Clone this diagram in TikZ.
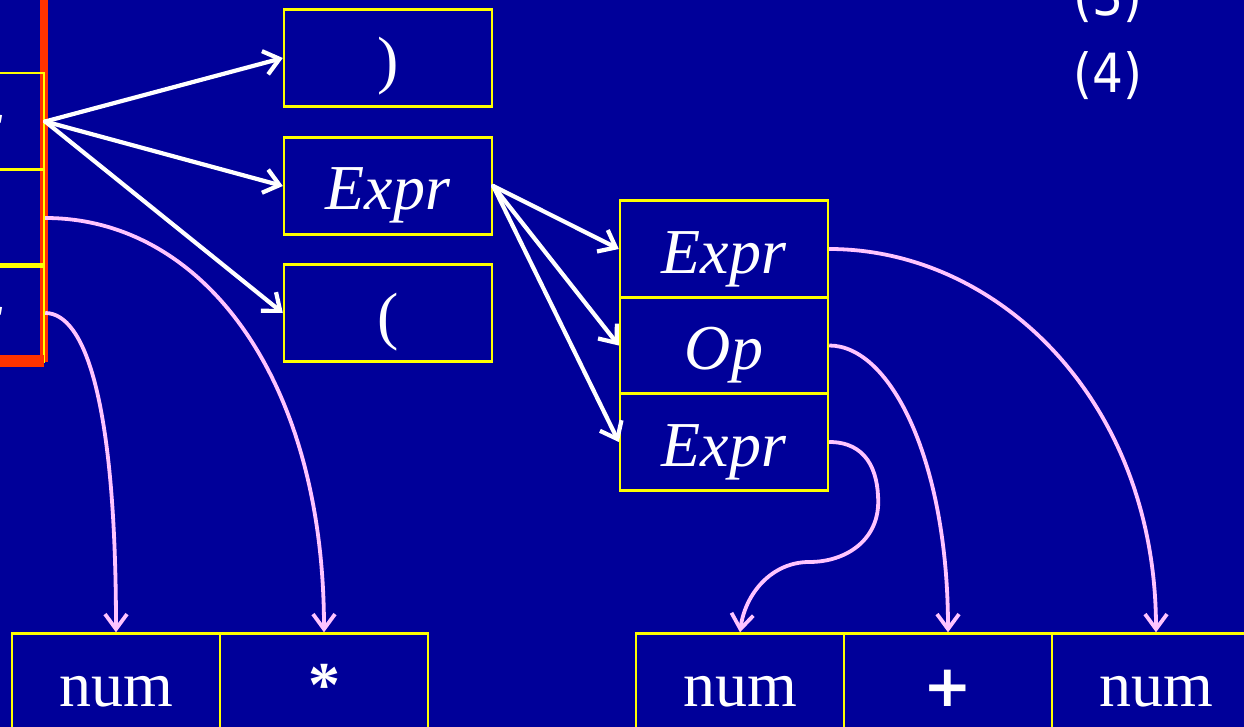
\documentclass[tikz,border=0pt]{standalone}
\usepackage{fontspec}
\setmainfont{Liberation Serif}
\newfontfamily\numfont[FakeStretch=0.9]{DejaVu Sans}
\newfontfamily\plusfont{DejaVu Sans}
\usetikzlibrary{arrows.meta,calc}
\definecolor{bg}{RGB}{0,0,153}
\definecolor{ylw}{RGB}{255,255,0}
\definecolor{pinkc}{RGB}{255,196,255}
\definecolor{redc}{RGB}{255,51,0}
\begin{document}
\begin{tikzpicture}[x=1pt,y=-1pt,
  cell/.style={draw=ylw, line width=2.4pt, minimum width=208pt, minimum height=97pt,
    inner sep=0pt, text=white, font=\fontsize{64}{70}\selectfont,
    text height=60pt, text depth=12pt},
  warrow/.style={draw=white, line width=4.2pt, line cap=round,
    -{Straight Barb[length=15pt,width=24pt]}},
  parrow/.style={draw=pinkc, line width=3.8pt,
    -{Straight Barb[length=15pt,width=22pt]}},
  lbl/.style={text=white, font=\numfont\fontsize{54}{60}\selectfont,
    anchor=base, inner sep=0pt}]
\fill[bg] (0,0) rectangle (1244,727);
\useasboundingbox (0,0) rectangle (1244,727);
\clip (0,0) rectangle (1244,727);
% red frame (vertical part)
\fill[redc] (40,0) rectangle (48,362);
% left column (cut off)
\node[cell] (L1) at (-60,121.5) {\textit{Expr}};
\node[cell] (L2) at (-60,218) {\textit{Op}};
\node[cell] (L3) at (-60,313) {\textit{Expr}};
\fill[redc] (0,355) rectangle (44,367);
% middle column
\node[cell] (M1) at (388,58) {)};
\node[cell] (M2) at (388,186) {\textit{Expr}};
\node[cell] (M3) at (388,313) {(};
% right column
\node[cell] (R1) at (724,249) {\textit{Expr}};
\node[cell] (R2) at (724,345.5) {\textit{Op}};
\node[cell] (R3) at (724,442) {\textit{Expr}};
% bottom row
\node[cell] (B1) at (116,682) {num};
\node[cell] (B2) at (324,682) {\textbf{*}};
\node[cell] (C1) at (740,682) {num};
\node[cell] (C2) at (948,682) {{\plusfont\fontsize{58}{64}\selectfont\bfseries +}};
\node[cell] (C3) at (1156,682) {num};
% labels
\node[lbl] (n3) at (1108,16) {(3)};
\node[lbl] (n4) at (1108,93) {(4)};
% white arrows
\draw[warrow] (L1.east) -- (M1.west);
\draw[warrow] (L1.east) -- (M2.west);
\draw[warrow] (L1.east) -- (M3.west);
\draw[warrow] (M2.east) -- (R1.west);
\draw[warrow] (M2.east) -- (R2.west);
\draw[warrow] (M2.east) -- (R3.west);
% pink arrows
\draw[parrow] (L2.east) .. controls ($(L2.east)+(160,0)$) and ($(B2.north)+(0,-250)$) .. (B2.north);
\draw[parrow] (L3.east) .. controls ($(L3.east)+(40,0)$) and ($(B1.north)+(0,-230)$) .. (B1.north);
\draw[parrow] (R1.east) .. controls ($(R1.east)+(170,0)$) and ($(C3.north)+(0,-230)$) .. (C3.north);
\draw[parrow] (R2.east) .. controls ($(R2.east)+(62,0)$) and ($(C2.north)+(0,-170)$) .. (C2.north);
\coordinate (s1) at ($(R3.east)+(49,60)$);
\coordinate (s2) at ($(R3.east)+(-20,120)$);
\draw[parrow] (R3.east) .. controls ($(R3.east)+(37,0)$) and ($(s1)+(0,-32)$) .. (s1)
  .. controls ($(s1)+(0,38)$) and ($(s2)+(37,0)$) .. (s2)
  .. controls ($(s2)+(-38,0)$) and ($(C1.north)+(5,-38)$) .. (C1.north);
\end{tikzpicture}
\end{document}
